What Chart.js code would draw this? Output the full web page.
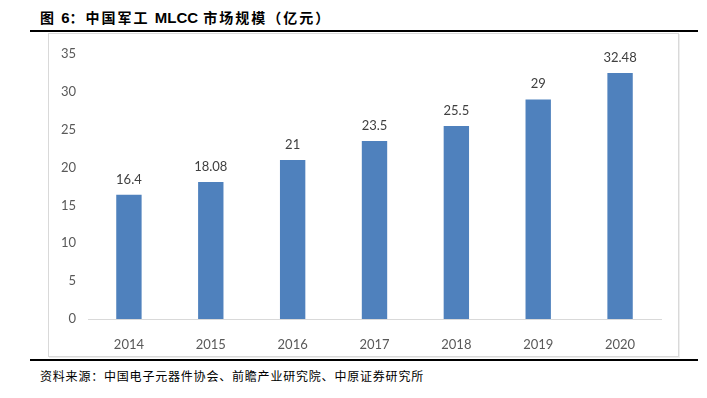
<!DOCTYPE html>
<html lang="zh">
<head>
    <meta charset="UTF-8">
    <title>中国军工 MLCC 市场规模</title>
    <script src="https://cdn.jsdelivr.net/npm/chart.js"></script>
    <style>
        body {
            margin: 0;
            width: 707px;
            height: 398px;
            background: #fff;
            position: relative;
            overflow: hidden;
        }
        #title {
            position: absolute;
            left: 40px;
            top: 7px;
            font-family: "Noto Sans CJK SC", sans-serif;
            font-weight: bold;
            font-size: 14px;
            letter-spacing: 2px;
            color: #000;
            white-space: nowrap;
        }
        #title span {
            font-family: "Liberation Sans", sans-serif;
            font-size: 15px;
            letter-spacing: 0;
        }
        .rule {
            position: absolute;
            left: 30px;
            width: 668px;
            height: 2px;
            background: #000;
        }
        #box {
            position: absolute;
            left: 48px;
            top: 33px;
            width: 629px;
            height: 322px;
            border: 1px solid #d9d9d9;
            box-shadow: 1px 1px 0 #eeeeee;
        }
        #source {
            position: absolute;
            left: 40px;
            top: 367px;
            font-family: "Noto Sans CJK SC", sans-serif;
            font-size: 12px;
            letter-spacing: 0.8px;
            color: #000;
            white-space: nowrap;
        }
    </style>
</head>
<body>
    <div id="title">图 <span>6</span>：中国军工 <span>MLCC</span> 市场规模（亿元）</div>
    <div class="rule" style="top: 30px;"></div>
    <div id="box"><canvas id="myChart" width="629" height="322"></canvas></div>
    <div class="rule" style="top: 359px;"></div>
    <div id="source">资料来源：中国电子元器件协会、前瞻产业研究院、中原证券研究所</div>
    <script>
        const years = ['2014', '2015', '2016', '2017', '2018', '2019', '2020'];
        const marketSize = [16.4, 18.08, 21, 23.5, 25.5, 29, 32.48];
        const yTicks = [0, 5, 10, 15, 20, 25, 30, 35];

        // value labels above the bars
        const barLabels = {
            id: 'barLabels',
            afterDatasetsDraw(chart) {
                const ctx = chart.ctx;
                const meta = chart.getDatasetMeta(0);
                ctx.save();
                ctx.font = '13px Lato, "Liberation Sans", sans-serif';
                ctx.fillStyle = '#404040';
                ctx.textAlign = 'center';
                ctx.textBaseline = 'bottom';
                meta.data.forEach((bar, i) => {
                    ctx.fillText(String(marketSize[i]), bar.x, bar.y - 9);
                });
                ctx.restore();
            }
        };

        const ctx = document.getElementById('myChart').getContext('2d');
        new Chart(ctx, {
            type: 'bar',
            data: {
                labels: years,
                datasets: [{
                    data: marketSize,
                    backgroundColor: '#4f81bd',
                    barPercentage: 0.31,
                    categoryPercentage: 1.0
                }]
            },
            options: {
                responsive: false,
                animation: false,
                layout: {
                    padding: { top: 20, right: 17, left: 0, bottom: 0 }
                },
                plugins: {
                    legend: { display: false },
                    tooltip: { enabled: false }
                },
                scales: {
                    x: {
                        grid: { display: false },
                        border: { display: true, color: '#d9d9d9', width: 1 },
                        ticks: {
                            color: '#595959',
                            padding: 10,
                            font: { family: 'Lato, "Liberation Sans", sans-serif', size: 13 }
                        },
                        afterFit(axis) { axis.height = 37; }
                    },
                    y: {
                        min: 0,
                        max: 35,
                        afterBuildTicks(axis) {
                            axis.ticks = yTicks.map(v => ({ value: v }));
                        },
                        grid: { display: false, drawTicks: false },
                        border: { display: false },
                        ticks: {
                            color: '#595959',
                            padding: 12,
                            font: { family: 'Lato, "Liberation Sans", sans-serif', size: 13 }
                        },
                        afterFit(axis) { axis.width = 39; }
                    }
                }
            },
            plugins: [barLabels]
        });
    </script>
</body>
</html>
